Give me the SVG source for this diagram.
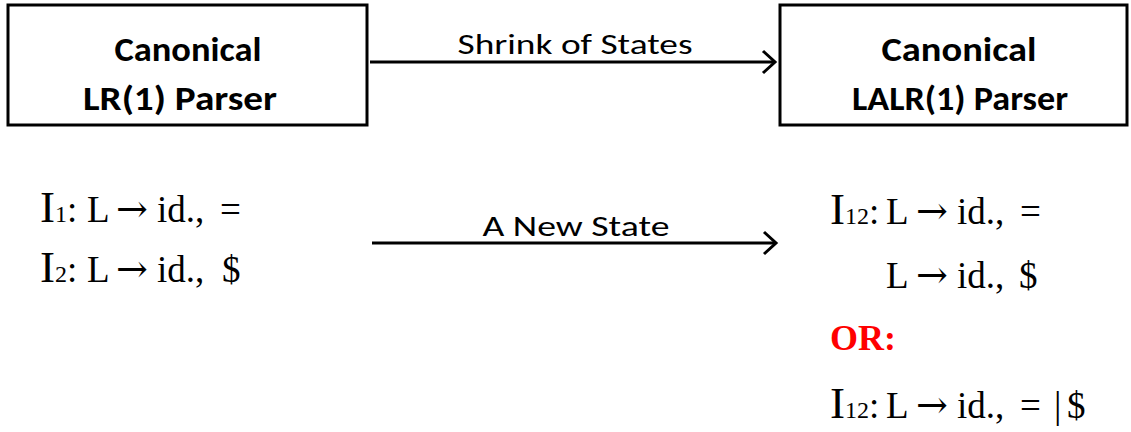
<svg xmlns="http://www.w3.org/2000/svg" width="1131" height="432" viewBox="0 0 1131 432">
  <defs>
    <marker id="chev" markerUnits="userSpaceOnUse" markerWidth="24" markerHeight="26" refX="20" refY="13" orient="auto">
      <path d="M8,2 L20,13 L8,24" fill="none" stroke="#000" stroke-width="3"/>
    </marker>
    <style>
      .box { fill: #fff; stroke: #000; stroke-width: 3; }
      .title { font-family: Carlito, Calibri, "Open Sans", "Liberation Sans", sans-serif; font-weight: bold; font-size: 35px; fill: #000; text-anchor: middle; }
      .lbl { font-family: Carlito, Calibri, "Open Sans", "Liberation Sans", sans-serif; font-size: 29px; fill: #000; text-anchor: middle; }
      .edge { stroke: #000; stroke-width: 3; fill: none; marker-end: url(#chev); }
      .eq { font-family: "Liberation Serif", "Times New Roman", serif; font-size: 37px; fill: #000; }
      .big { font-size: 45px; }
      .sub { font-size: 24px; }
      .arr { font-family: "DejaVu Serif", serif; font-size: 38px; }
      .or { font-family: "Liberation Serif", "Times New Roman", serif; font-weight: bold; font-size: 36px; fill: #ff0000; }
    </style>
  </defs>

  <!-- parser boxes -->
  <g id="lr1">
    <rect class="box" x="8" y="5" width="359" height="120"/>
    <text class="title" x="188" y="61" textLength="147" lengthAdjust="spacingAndGlyphs">Canonical</text>
    <text class="title" x="180" y="110" textLength="194" lengthAdjust="spacingAndGlyphs">LR(1) Parser</text>
  </g>
  <g id="lalr1">
    <rect class="box" x="780" y="5" width="347" height="120"/>
    <text class="title" x="959" y="61" textLength="155" lengthAdjust="spacingAndGlyphs">Canonical</text>
    <text class="title" x="960" y="110" textLength="216" lengthAdjust="spacingAndGlyphs">LALR(1) Parser</text>
  </g>

  <!-- connectors -->
  <g id="connectors">
    <line class="edge" x1="370" y1="62" x2="775" y2="62"/>
    <text class="lbl" x="575" y="54" textLength="235" lengthAdjust="spacingAndGlyphs">Shrink of States</text>
    <line class="edge" x1="372" y1="243" x2="776" y2="243"/>
    <text class="lbl" x="576" y="236" textLength="187" lengthAdjust="spacingAndGlyphs">A New State</text>
  </g>

  <!-- LR(1) item sets -->
  <g id="lr1-items">
    <text class="eq" y="222"><tspan class="big" x="40">I</tspan><tspan class="sub">1</tspan>:<tspan x="87">L</tspan><tspan class="arr" x="116">→</tspan><tspan x="157">id.,</tspan><tspan x="220">=</tspan></text>
    <text class="eq" y="282"><tspan class="big" x="40">I</tspan><tspan class="sub">2</tspan>:<tspan x="87">L</tspan><tspan class="arr" x="116">→</tspan><tspan x="157">id.,</tspan><tspan x="222">$</tspan></text>
  </g>

  <!-- merged LALR(1) item sets -->
  <g id="lalr1-items">
    <text class="eq" y="224"><tspan class="big" x="830">I</tspan><tspan class="sub">12</tspan>:<tspan x="886">L</tspan><tspan class="arr" x="916">→</tspan><tspan x="957">id.,</tspan><tspan x="1020">=</tspan></text>
    <text class="eq" y="288"><tspan x="886">L</tspan><tspan class="arr" x="916">→</tspan><tspan x="957">id.,</tspan><tspan x="1019">$</tspan></text>
    <text class="or" x="830" y="350">OR:</text>
    <text class="eq" y="418"><tspan class="big" x="830">I</tspan><tspan class="sub">12</tspan>:<tspan x="886">L</tspan><tspan class="arr" x="916">→</tspan><tspan x="957">id.,</tspan><tspan x="1020">=</tspan><tspan x="1054">|</tspan><tspan x="1067">$</tspan></text>
  </g>
</svg>
